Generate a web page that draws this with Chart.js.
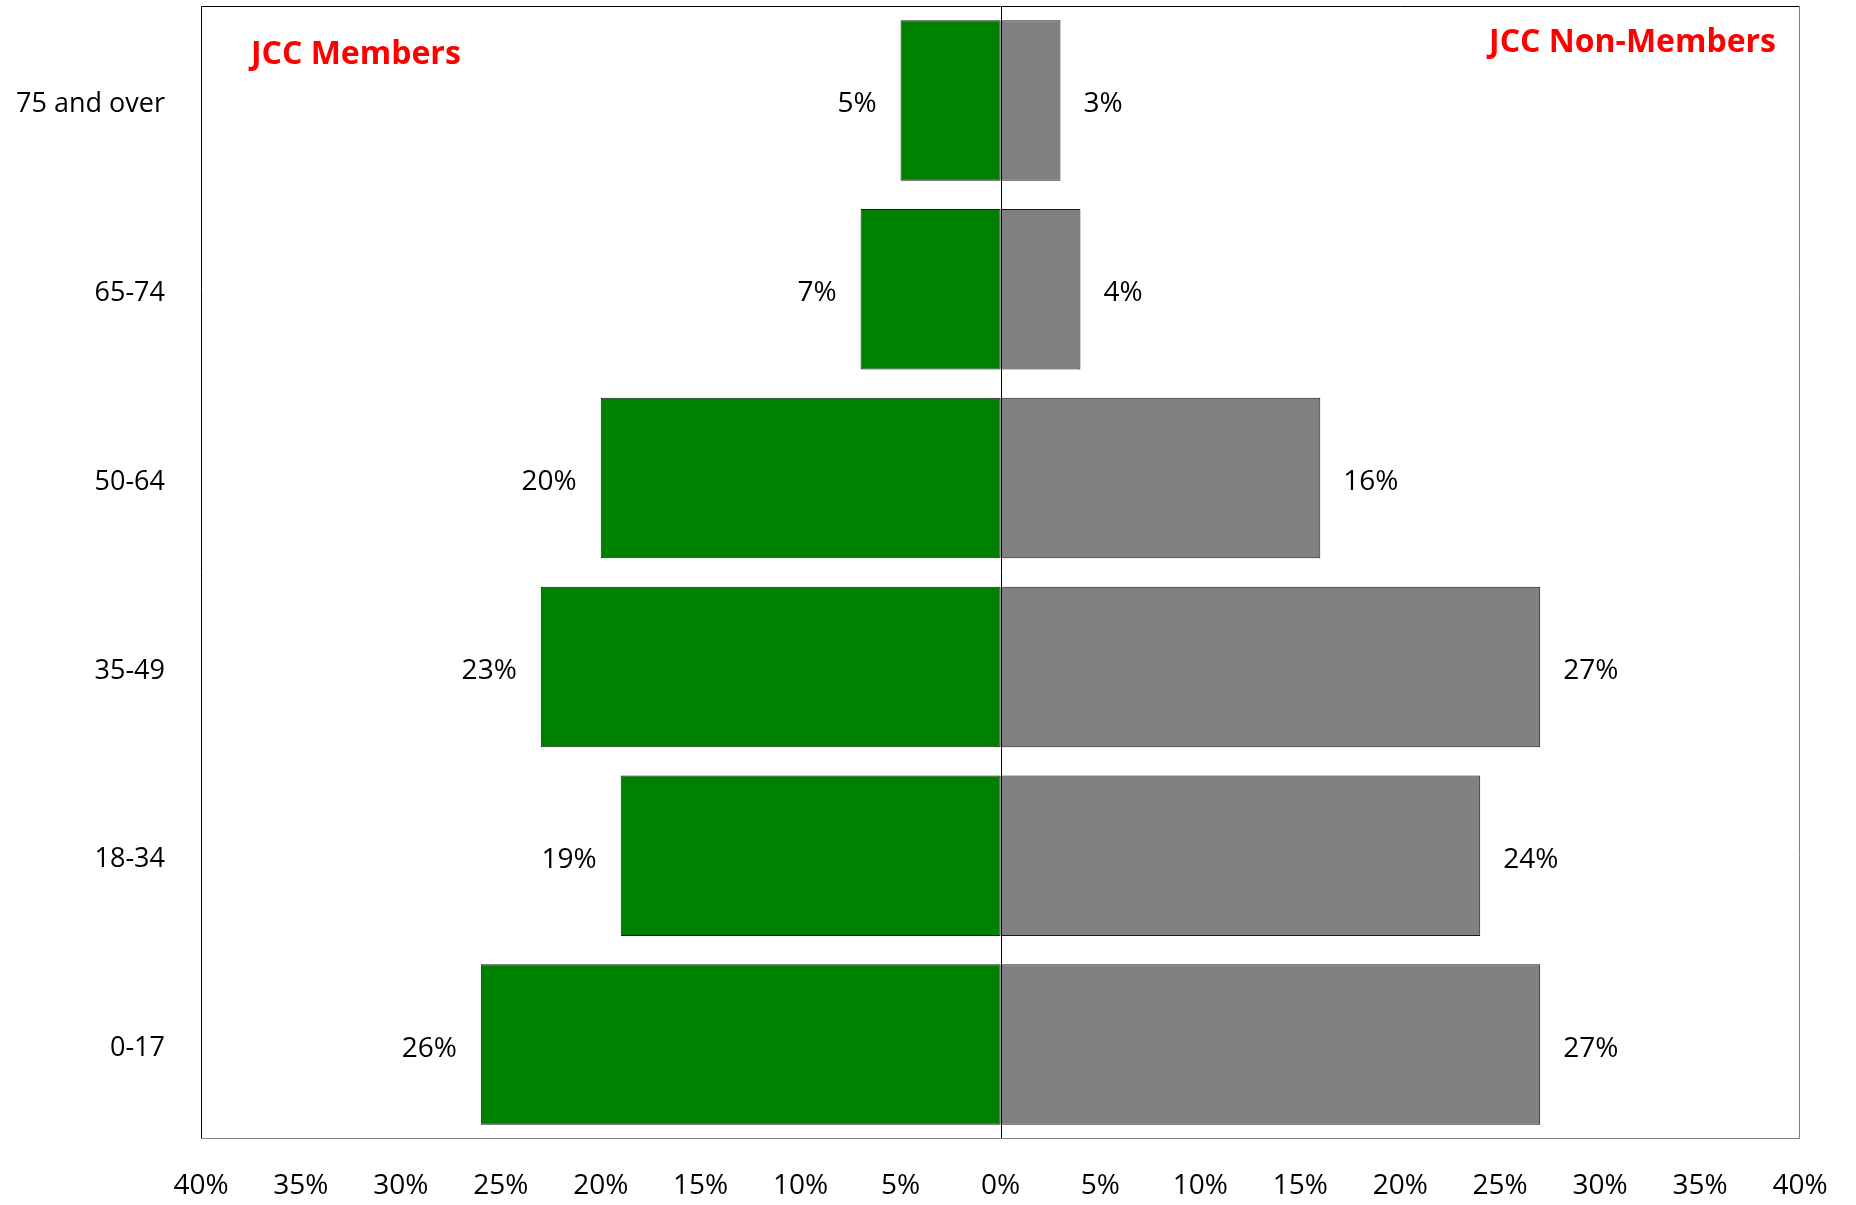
<!DOCTYPE html>
<html>
<head>
<meta charset="utf-8">
<script src="https://cdn.jsdelivr.net/npm/chart.js@4"></script>
<style>
html,body{margin:0;padding:0;background:#fff;}
#wrap{width:1856px;height:1205px;position:relative;}
</style>
</head>
<body>
<div id="wrap"><canvas id="c" width="1856" height="1205"></canvas></div>
<script>
const categories = ["75 and over", "65-74", "50-64", "35-49", "18-34", "0-17"];
const members = [5, 7, 20, 23, 19, 26];
const nonMembers = [3, 4, 16, 27, 24, 27];
const seriesNames = ["JCC Members", "JCC Non-Members"];
const xTicks = [-40, -35, -30, -25, -20, -15, -10, -5, 0, 5, 10, 15, 20, 25, 30, 35, 40];

const FONT = "'Open Sans', 'DejaVu Sans', sans-serif";

const overlay = {
  id: 'overlay',
  afterDatasetsDraw(chart) {
    const ctx = chart.ctx;
    const a = chart.chartArea;
    const xs = chart.scales.x;
    ctx.save();
    // zero line
    const z = Math.round(xs.getPixelForValue(0)) + 0.5;
    ctx.strokeStyle = '#000';
    ctx.lineWidth = 1;
    ctx.beginPath();
    ctx.moveTo(z, a.top);
    ctx.lineTo(z, a.bottom);
    ctx.stroke();
    // frame
    ctx.strokeStyle = '#000';
    ctx.beginPath();
    ctx.moveTo(a.left + 0.5, a.bottom);
    ctx.lineTo(a.left + 0.5, a.top + 0.5);
    ctx.lineTo(a.right, a.top + 0.5);
    ctx.stroke();
    ctx.strokeStyle = '#7f7f7f';
    ctx.beginPath();
    ctx.moveTo(a.right - 0.5, a.top);
    ctx.lineTo(a.right - 0.5, a.bottom - 0.5);
    ctx.lineTo(a.left, a.bottom - 0.5);
    ctx.stroke();
    // data labels
    ctx.fillStyle = '#000';
    ctx.font = "28px " + FONT;
    ctx.textBaseline = 'middle';
    chart.data.datasets.forEach((ds, di) => {
      const meta = chart.getDatasetMeta(di);
      meta.data.forEach((bar, i) => {
        const v = Math.abs(ds.data[i]);
        const txt = v + '%';
        if (ds.data[i] < 0) {
          ctx.textAlign = 'right';
          ctx.fillText(txt, bar.x - 24, bar.y + 4);
        } else {
          ctx.textAlign = 'left';
          ctx.fillText(txt, bar.x + 23, bar.y + 4);
        }
      });
    });
    // side titles
    ctx.fillStyle = '#ff0000';
    ctx.font = "bold 32px " + FONT;
    ctx.textAlign = 'left';
    ctx.fillText(seriesNames[0], a.left + 50, 55 - a.top + 6);
    ctx.textAlign = 'right';
    ctx.fillText(seriesNames[1], a.right - 24, 43 - a.top + 6);
    ctx.restore();
  }
};

new Chart(document.getElementById('c'), {
  type: 'bar',
  data: {
    labels: categories,
    datasets: [
      {
        label: seriesNames[0],
        data: members.map(v => -v),
        backgroundColor: '#008000',
        borderColor: '#1a1a1a',
        borderWidth: 1,
        borderSkipped: false
      },
      {
        label: seriesNames[1],
        data: nonMembers,
        backgroundColor: '#808080',
        borderColor: '#1a1a1a',
        borderWidth: 1,
        borderSkipped: false
      }
    ]
  },
  options: {
    indexAxis: 'y',
    responsive: false,
    animation: false,
    devicePixelRatio: 1,
    layout: { padding: { top: 6, right: 56, left: 0, bottom: 0 } },
    plugins: {
      legend: { display: false },
      tooltip: { enabled: false },
      title: { display: false }
    },
    datasets: { bar: { categoryPercentage: 0.85, barPercentage: 1.0 } },
    scales: {
      x: {
        type: 'linear',
        min: -40,
        max: 40,
        stacked: true,
        afterBuildTicks(scale) { scale.ticks = xTicks.map(v => ({ value: v })); },
        afterFit(scale) { scale.height = 66; scale.paddingLeft = 0; scale.paddingRight = 0; },
        grid: { display: false, drawTicks: false, tickLength: 0 },
        border: { display: false },
        ticks: {
          padding: 30,
          color: '#000',
          font: { family: FONT, size: 28 },
          maxRotation: 0,
          autoSkip: false,
          callback: (v) => Math.abs(v) + '%'
        }
      },
      y: {
        stacked: true,
        afterFit(scale) { scale.width = 201; scale.paddingTop = 0; scale.paddingBottom = 0; },
        grid: { display: false, drawTicks: false, tickLength: 0 },
        border: { display: false },
        ticks: {
          padding: 36,
          labelOffset: 4,
          color: '#000',
          font: { family: FONT, size: 27 }
        }
      }
    }
  },
  plugins: [overlay]
});
</script>
</body>
</html>
